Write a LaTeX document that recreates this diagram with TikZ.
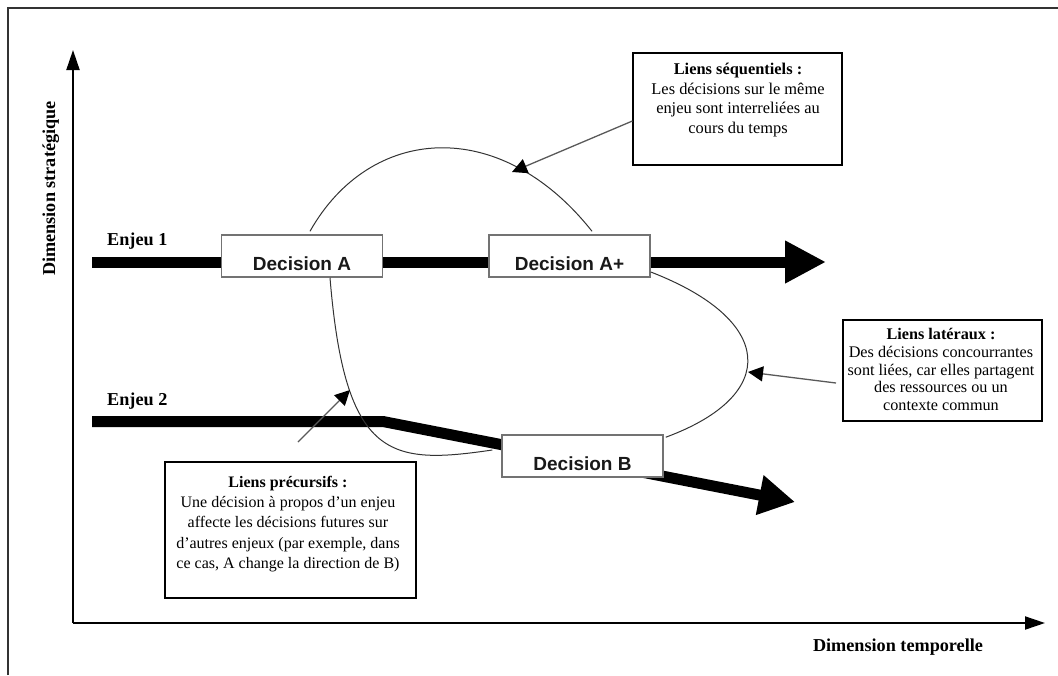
\documentclass[tikz,border=0pt]{standalone}
\usepackage{fontspec}
\setmainfont{Liberation Serif}
\newfontfamily\decfont{Liberation Sans}
\usetikzlibrary{arrows.meta,backgrounds}
\begin{document}
\begin{tikzpicture}[x=1pt,y=-1pt,
  decbox/.style={draw=black!55, line width=1.5pt, fill=white, minimum width=161pt, minimum height=42pt,
    inner sep=0pt, text height=28pt, text depth=0pt, font=\decfont\bfseries\fontsize{19}{22}\selectfont, text=black!90},
  infobox/.style={draw=black, line width=1.2pt, fill=white, inner sep=0pt},
  infotext/.style={align=center, inner sep=0pt, anchor=north},
  axislabel/.style={font=\bfseries\fontsize{18.2}{22}\selectfont, inner sep=0pt},
  enjeu/.style={line width=11pt, black},
  link/.style={line width=1pt, black!80},
  pointer/.style={line width=1.3pt, black!65, -{Triangle[length=15pt,width=15pt,color=black]}},
  axis/.style={line width=2pt, black, -{Triangle[length=20pt,width=13pt]}}
]
\useasboundingbox (0,0) rectangle (1058,675);
% frame
\draw[line width=1.6pt, black!80] (8,675) -- (8,8) -- (1058,8);

% axes
\coordinate (origin) at (73,623);
\coordinate (ytip) at (73,50);
\coordinate (xtip) at (1045,623);
\draw[axis] (origin) -- (ytip);
\draw[axis] (origin) -- (xtip);
\node[axislabel, rotate=90, anchor=base] (ylab) at (55,188.5) {Dimension stratégique};
\node[axislabel, anchor=base] (xlab) at (898,651) {Dimension temporelle};

% enjeux
\coordinate (e1s) at (92,262);
\coordinate (e1e) at (826,262);
\coordinate (e2s) at (92,421.5);
\coordinate (e2b) at (383,421.5);
\coordinate (e2e) at (795,502);
\node[axislabel, anchor=base west] (en1) at (107,245.5) {Enjeu 1};
\node[axislabel, anchor=base west] (en2) at (107,405) {Enjeu 2};

% decisions
\node[decbox] (decA) at (302,256) {Decision A};
\node[decbox] (decAp) at (569.5,256) {Decision A+};
\node[decbox] (decB) at (582.5,456) {Decision B};

\begin{pgfonlayer}{background}
\draw[enjeu, -{Triangle[length=41pt,width=40pt]}] (e1s) -- (e1e);
\draw[enjeu, -{Triangle[length=36pt,width=38pt]}] (e2s) -- (e2b) -- (e2e);
\end{pgfonlayer}

% links between decisions
\draw[link] ([xshift=8pt,yshift=3pt]decA.north) .. controls (370,125) and (500,115) .. ([xshift=22.5pt,yshift=3pt]decAp.north);
\draw[link] ([xshift=28pt]decA.south) .. controls (345,460) and (390,465) .. ([xshift=-9pt,yshift=6pt]decB.west);
\draw[link] ([yshift=-16pt]decAp.east) .. controls (775,320) and (780,395) .. ([xshift=2pt,yshift=-3pt]decB.north east);

% info boxes
\node[infobox, minimum width=209pt, minimum height=112pt] (seq) at (737.5,109) {};
\node[infotext, font=\fontsize{16.4}{19.7}\selectfont] (seqtxt) at (738,62.8)
  {\textbf{Liens séquentiels :}\\Les décisions sur le même\\enjeu sont interreliées au\\cours du temps};

\node[infobox, minimum width=199pt, minimum height=101pt] (lat) at (942.5,370.5) {};
\node[infotext, font=\fontsize{16.2}{17.8}\selectfont] (lattxt) at (941,328)
  {\textbf{Liens latéraux :}\\Des décisions concourrantes\\sont liées, car elles partagent\\des ressources ou un\\contexte commun};

\node[infobox, minimum width=251pt, minimum height=136pt] (prec) at (290.5,530) {};
\node[infotext, font=\fontsize{16}{20.2}\selectfont] (prectxt) at (288,476)
  {\textbf{Liens précursifs :}\\Une décision à propos d'un enjeu\\affecte les décisions futures sur\\d'autres enjeux (par exemple, dans\\ce cas, A change la direction de B)};

% pointers
\coordinate (seqtip) at (512,172);
\coordinate (latfrom) at (836,383);
\coordinate (lattip) at (748,372);
\coordinate (precfrom) at (298,442);
\coordinate (prectip) at (350,390);
\draw[pointer] ([yshift=-12pt]seq.west) -- (seqtip);
\draw[pointer] (latfrom) -- (lattip);
\draw[pointer] (precfrom) -- (prectip);
\end{tikzpicture}
\end{document}
